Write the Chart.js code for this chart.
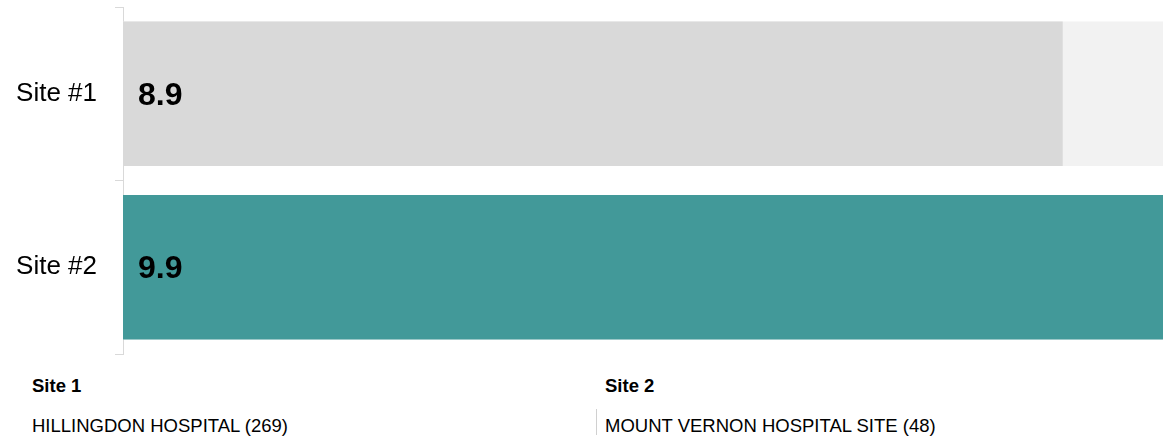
<!DOCTYPE html>
<html>
<head>
<meta charset="utf-8">
<script src="https://cdn.jsdelivr.net/npm/chart.js@4/dist/chart.umd.min.js"></script>
<style>
  body { margin: 0; background: #fff; font-family: "Liberation Sans", Arial, sans-serif; overflow: hidden; }
  #wrap { position: relative; width: 1163px; height: 436px; overflow: hidden; }
  #chartBox { position: absolute; left: 0; top: 0; width: 1163px; height: 360px; }
  .col { position: absolute; top: 0; color: #000; font-size: 18.5px; line-height: 18px; }
  .col .head { position: absolute; top: 377px; font-weight: bold; white-space: nowrap; }
  .col .name { position: absolute; top: 417px; white-space: nowrap; }
  .col.second .name { top: 409px; padding-top: 8px; border-left: 1px solid #d0d0d0; padding-left: 8px; margin-left: -9px; height: 18px; }
</style>
</head>
<body>
<div id="wrap">
  <div id="chartBox"><canvas id="myChart"></canvas></div>
  <div id="footer"></div>
</div>
<script>
const categories = ['Site #1', 'Site #2'];
const scores = [8.9, 9.9];
const barColors = ['#d9d9d9', '#429999'];
const siteHeads = ['Site 1', 'Site 2'];
const siteNames = ['HILLINGDON HOSPITAL (269)', 'MOUNT VERNON HOSPITAL SITE (48)'];
const xMax = 9.85;

// footer with the site names
const footer = document.getElementById('footer');
const colLeft = [32, 605];
footer.innerHTML = siteHeads
  .map((head, i) => {
    return `<div class="col${i ? ' second' : ''}" style="left:${colLeft[i]}px">
      <div class="head">${head}</div><div class="name">${siteNames[i]}</div></div>`;
  })
  .join('');

// value text inside each bar
const valueLabels = {
  id: 'valueLabels',
  afterDatasetsDraw(chart) {
    const ctx = chart.ctx;
    const meta = chart.getDatasetMeta(1);
    ctx.save();
    ctx.font = 'bold 32px "Liberation Sans", Arial, sans-serif';
    ctx.fillStyle = '#000';
    ctx.textAlign = 'left';
    ctx.textBaseline = 'middle';
    meta.data.forEach((bar, i) => {
      ctx.fillText(scores[i].toFixed(1), bar.base + 15, bar.y + 2);
    });
    ctx.restore();
  }
};

const ctx = document.getElementById('myChart').getContext('2d');
const chart = new Chart(ctx, {
  type: 'bar',
  data: {
    labels: categories,
    datasets: [{
      label: 'track',
      data: categories.map(() => xMax),
      backgroundColor: '#f2f2f2',
      grouped: false,
      order: 2,
      categoryPercentage: 1,
      barPercentage: 0.833
    }, {
      label: 'Score',
      data: scores,
      backgroundColor: barColors,
      grouped: false,
      order: 1,
      categoryPercentage: 1,
      barPercentage: 0.833
    }]
  },
  options: {
    indexAxis: 'y',
    responsive: true,
    maintainAspectRatio: false,
    animation: false,
    layout: { padding: { top: 7, bottom: 6, left: 0, right: 0 } },
    plugins: { legend: { display: false }, tooltip: { enabled: false } },
    scales: {
      x: { display: false, min: 0, max: xMax },
      y: {
        // fixed axis width, no extra room above/below for the labels
        afterFit: scale => {
          scale.width = 123;
          scale.paddingTop = 0;
          scale.paddingBottom = 0;
        },
        grid: { drawOnChartArea: false, tickLength: 8, color: '#d9d9d9' },
        border: { display: true, color: '#d9d9d9' },
        ticks: {
          padding: 18,
          color: '#000',
          font: { family: '"Liberation Sans", Arial, sans-serif', size: 26 }
        }
      }
    }
  },
  plugins: [valueLabels]
});
</script>
</body>
</html>
